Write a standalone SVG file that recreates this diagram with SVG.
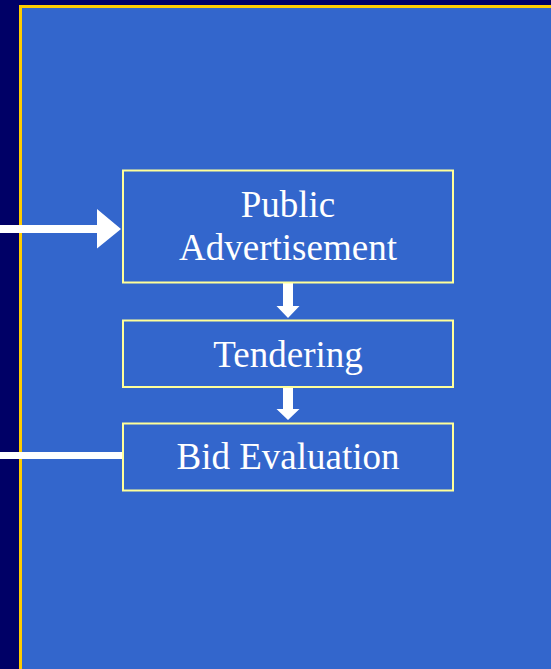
<svg xmlns="http://www.w3.org/2000/svg" width="551" height="669" viewBox="0 0 551 669">
<style>
.box{fill:#3366CC;stroke:#FFFF99;stroke-width:2}
.lbl{font-family:"Liberation Serif","Times New Roman",serif;font-size:37px;fill:#FFFFFF;text-anchor:middle}
.con{fill:#FFFFFF}
</style>
<rect x="0" y="0" width="551" height="669" fill="#000066"/>
<rect x="20.5" y="6.5" width="540" height="680" fill="#3366CC" stroke="#FFCC00" stroke-width="3"/>
<g id="connectors">
<path class="con" d="M0,225 H97 V209 L121,229 L97,248.5 V233 H0 Z"/>
<path class="con" d="M283,283 H293 V306 H299.5 L288,318 L276.5,306 H283 Z"/>
<path class="con" d="M283,388 H293 V409 H299.5 L288,420 L276.5,409 H283 Z"/>
<rect class="con" x="0" y="452" width="123" height="7"/>
</g>
<g id="public-advertisement">
<rect class="box" x="123" y="170.5" width="330" height="112"/>
<text class="lbl" x="288" y="217">Public</text>
<text class="lbl" x="288" y="260">Advertisement</text>
</g>
<g id="tendering">
<rect class="box" x="123" y="320.5" width="330" height="66.5"/>
<text class="lbl" x="288" y="367">Tendering</text>
</g>
<g id="bid-evaluation">
<rect class="box" x="123" y="423.5" width="330" height="67"/>
<text class="lbl" x="288" y="469">Bid Evaluation</text>
</g>
</svg>
